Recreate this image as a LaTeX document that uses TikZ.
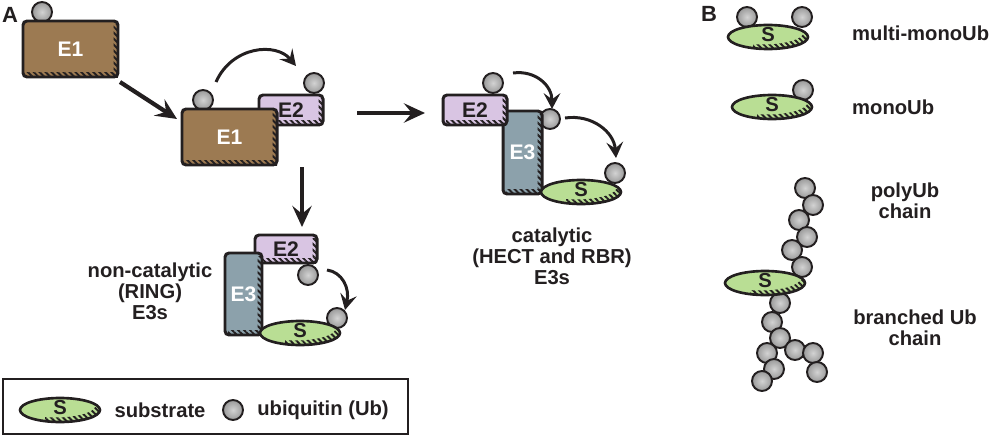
\documentclass[tikz,border=0pt]{standalone}
\usepackage{fontspec}
\setmainfont{Liberation Sans}
\usetikzlibrary{arrows.meta,patterns.meta}

\definecolor{eonecol}{HTML}{9C7A52}
\definecolor{etwocol}{HTML}{D9C5E3}
\definecolor{ethreecol}{HTML}{8CA1AB}
\definecolor{subcol}{HTML}{B9DE94}
\definecolor{inkcol}{HTML}{231F20}

\tikzset{
  protein/.style={draw=inkcol, line width=1.7pt, rounded corners=2.3pt,
    inner sep=0pt, font=\fontsize{12}{12}\selectfont\bfseries},
  ub/.style={circle, draw=inkcol, line width=1.1pt, minimum size=4mm, inner sep=0pt,
    inner color=gray!35, outer color=gray!80},
  hatch/.style={pattern={Lines[angle=-45,distance=2.4pt,line width=1.1pt]},
    pattern color=inkcol},
  lbl/.style={text=inkcol, align=center, font=\fontsize{11.5}{12}\selectfont\bfseries},
  bigarrow/.style={draw=inkcol, line width=2.4pt,
    -{Stealth[length=12pt,width=11pt,inset=4.5pt]}},
  curvarrow/.style={draw=inkcol, line width=1.7pt,
    -{Stealth[length=9pt,width=9.5pt,inset=3.5pt]}},
}

% hatch along bottom and right inner edge of a box node
\newcommand{\boxhatch}[1]{%
  \begin{scope}
    \clip[rounded corners=2.3pt] (#1.south west) rectangle (#1.north east);
    \path[hatch] ([shift={(2.6pt,0.85pt)}]#1.south west) rectangle ([shift={(-0.85pt,3.4pt)}]#1.south east);
    \path[hatch] ([shift={(-3.4pt,0.85pt)}]#1.south east) rectangle ([shift={(-0.85pt,-2.6pt)}]#1.north east);
  \end{scope}}

% substrate: name, x, y
\newcommand{\substrate}[3]{%
  \begin{scope}[shift={(#2,#3)}]
    \fill[subcol] (0,0) ellipse [x radius=8mm, y radius=2.4mm];
    \begin{scope}
      \clip (0,0) ellipse [x radius=8mm, y radius=2.4mm];
      \clip (-3mm,-3mm) rectangle (9mm,0.5mm);
      \path[hatch, even odd rule] (0,0) ellipse [x radius=8mm, y radius=2.4mm]
        (-0.9mm,0.9mm) ellipse [x radius=8mm, y radius=2.4mm];
    \end{scope}
    \draw[inkcol, line width=1.5pt] (0,0) ellipse [x radius=8mm, y radius=2.4mm];
    \node[text=inkcol, font=\fontsize{11.5}{12}\selectfont\bfseries, inner sep=0pt] (#1) at (0,0.4mm) {S};
  \end{scope}}

\begin{document}
\begin{tikzpicture}[x=0.2mm, y=-0.2mm]
  \useasboundingbox (0,0) rectangle (992,438);

  %% panel A
  \node[lbl, font=\fontsize{12.5}{13}\selectfont\bfseries] (pA) at (10,15) {A};

  %% E1 loaded
  \node[ub] (ub0) at (42,12) {};
  \node[protein, fill=eonecol, text=white, minimum width=19mm, minimum height=11.2mm] (e1a) at (70.5,49) {E1};
  \boxhatch{e1a}

  %% E1 passing Ub to E2
  \node[ub] (ub2) at (314,83) {};
  \node[protein, fill=etwocol, text=inkcol, minimum width=12.8mm, minimum height=6mm] (e2a) at (291,110) {E2};
  \boxhatch{e2a}
  \node[ub] (ub1) at (203,100) {};
  \node[protein, fill=eonecol, text=white, minimum width=19mm, minimum height=11.2mm] (e1b) at (229.5,137) {E1};
  \boxhatch{e1b}

  \coordinate (a1s) at (120,82);
  \coordinate (a1e) at (177,119);
  \draw[bigarrow] (a1s) -- (a1e);
  \coordinate (c1s) at (216,82);
  \coordinate (c1e) at (296,66);
  \draw[curvarrow] (c1s) .. controls (232,46) and (276,42) .. (c1e);

  %% non-catalytic (RING) E3
  \coordinate (a2s) at (302,167);
  \coordinate (a2e) at (302,227);
  \draw[bigarrow] (a2s) -- (a2e);
  \node[ub] (ub3) at (308,275) {};
  \node[protein, fill=etwocol, text=inkcol, minimum width=12.4mm, minimum height=5.6mm] (e2b) at (286,249) {E2};
  \boxhatch{e2b}
  \node[protein, fill=ethreecol, text=white, minimum width=7.4mm, minimum height=16.4mm] (e3a) at (243.5,294) {E3};
  \boxhatch{e3a}
  \node[ub] (ub4) at (337,318) {};
  \substrate{s1}{300}{333}
  \coordinate (c2s) at (327,270);
  \coordinate (c2e) at (345,310);
  \draw[curvarrow] (c2s) .. controls (342,272) and (350,288) .. (c2e);
  \node[lbl] (ring) at (150,291) {non-catalytic\\(RING)\\E3s};

  %% catalytic (HECT and RBR) E3
  \coordinate (a3s) at (357,113);
  \coordinate (a3e) at (425,113);
  \draw[bigarrow] (a3s) -- (a3e);
  \node[ub] (ub6) at (550,119) {};
  \node[protein, fill=ethreecol, text=white, minimum width=7.8mm, minimum height=16.6mm] (e3b) at (522.5,152.5) {E3};
  \boxhatch{e3b}
  \node[ub] (ub5) at (493,83) {};
  \node[protein, fill=etwocol, text=inkcol, minimum width=12.8mm, minimum height=6mm] (e2c) at (475,110) {E2};
  \boxhatch{e2c}
  \node[ub] (ub7) at (615,173) {};
  \substrate{s2}{581}{192}
  \coordinate (c3s) at (513,73);
  \coordinate (c3e) at (552,109);
  \draw[curvarrow] (c3s) .. controls (536,70) and (552,86) .. (c3e);
  \coordinate (c4s) at (565,118);
  \coordinate (c4e) at (616,158);
  \draw[curvarrow] (c4s) .. controls (592,114) and (614,132) .. (c4e);
  \node[lbl] (hect) at (552,256) {catalytic\\(HECT and RBR)\\E3s};

  %% legend
  \draw[inkcol, line width=1.1pt] (3,379) rectangle (408,434);
  \substrate{sleg}{60}{410}
  \node[lbl] (tsub) at (160,410) {substrate};
  \node[ub] (ubleg) at (233,410) {};
  \node[lbl] (tub) at (323,410) {ubiquitin (Ub)};

  %% panel B
  \node[lbl, font=\fontsize{12.5}{13}\selectfont\bfseries] (pB) at (709,14) {B};
  \node[ub] (ubm1) at (747,17) {};
  \node[ub] (ubm2) at (802,17) {};
  \substrate{s3}{768}{37}
  \node[lbl, anchor=west] (tmulti) at (846,33) {multi-monoUb};

  \node[ub] (ubmono) at (803,90) {};
  \substrate{s4}{772}{107}
  \node[lbl, anchor=west] (tmono) at (846,107) {monoUb};

  %% chains
  \foreach \px/\py [count=\i] in {805/188, 813/205, 799/220, 807/237, 792/250, 802/267}
    \node[ub] (pu\i) at (\px,\py) {};
  \foreach \px/\py [count=\i] in {780/303, 772/322, 780/338, 767/353, 774/369, 762/381, 795/350, 813/353, 817/372}
    \node[ub] (bu\i) at (\px,\py) {};
  \substrate{s5}{765}{283}
  \node[lbl] (tpoly) at (905,201) {polyUb\\chain};
  \node[lbl] (tbranch) at (915,328) {branched Ub\\chain};
\end{tikzpicture}
\end{document}
